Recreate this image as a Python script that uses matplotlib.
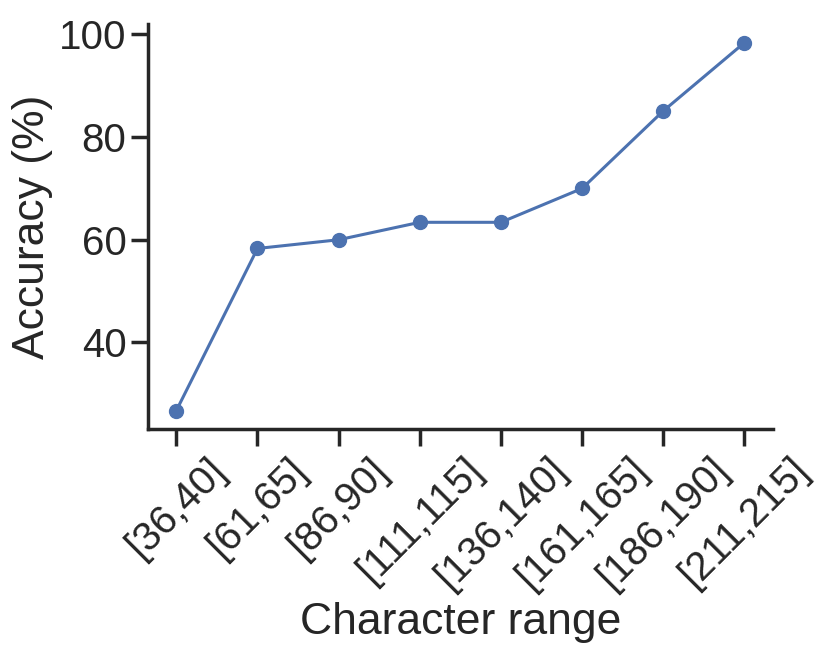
import matplotlib
matplotlib.use("Agg")
import matplotlib.pyplot as plt
import seaborn as sns

ranges = ["[36,40]", "[61,65]", "[86,90]", "[111,115]",
          "[136,140]", "[161,165]", "[186,190]", "[211,215]"]
accuracy = [26.7, 58.3, 60.0, 63.4, 63.4, 70.0, 85.1, 98.4]

sns.set_theme(style="ticks", context="poster")
plt.rcParams['font.family'] = ['Liberation Sans', 'DejaVu Sans']

fig, ax = plt.subplots(figsize=(8.31, 6.57), dpi=100)
ax.plot(range(len(ranges)), accuracy, marker="o", color="#4c72b0",
        linewidth=2.2, markersize=10)
ax.set_xticks(range(len(ranges)))
ax.set_xticklabels(ranges, rotation=45, fontsize=29)
ax.set_yticks([40, 60, 80, 100])
ax.tick_params(axis="y", labelsize=29)
ax.set_xlabel("Character range", fontsize=32)
ax.set_ylabel("Accuracy (%)", fontsize=32)
sns.despine()

fig.subplots_adjust(left=0.178, right=0.93, top=0.963, bottom=0.347)
fig.savefig("out.png", dpi=100)
